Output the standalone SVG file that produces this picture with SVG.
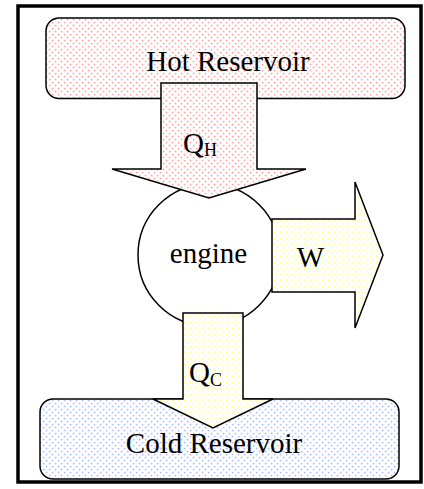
<svg xmlns="http://www.w3.org/2000/svg" width="424" height="489" viewBox="0 0 424 489">
<defs>
<pattern id="pink" width="6" height="6" patternUnits="userSpaceOnUse">
<rect width="6" height="6" fill="#ffffff"/>
<rect x="0.8" y="0.8" width="1.6" height="1.6" fill="#ff9f9f"/>
<rect x="3.8" y="3.8" width="1.6" height="1.6" fill="#ff9f9f"/>
</pattern>
<pattern id="blue" width="6" height="6" patternUnits="userSpaceOnUse">
<rect width="6" height="6" fill="#ffffff"/>
<rect x="0.8" y="0.8" width="1.6" height="1.6" fill="#a9bcff"/>
<rect x="3.8" y="3.8" width="1.6" height="1.6" fill="#a9bcff"/>
</pattern>
<pattern id="yellow" width="6" height="6" patternUnits="userSpaceOnUse">
<rect width="6" height="6" fill="#ffffff"/>
<rect x="0.8" y="0.8" width="1.6" height="1.6" fill="#ffff8c"/>
<rect x="3.8" y="3.8" width="1.6" height="1.6" fill="#ffff8c"/>
</pattern>
</defs>
<style>
.sh{stroke:#000;stroke-width:1.5;stroke-linejoin:miter}
.t{font-family:"Liberation Serif","Times New Roman",serif;font-size:29px;fill:#000}
.sub{font-size:18px}
</style>
<rect x="18" y="6" width="403" height="476" fill="#ffffff" stroke="#000" stroke-width="3.5"/>
<g id="hot">
<rect class="sh" x="46" y="18" width="359" height="80.5" rx="13" fill="url(#pink)"/>
<text class="t" x="228" y="71" text-anchor="middle">Hot Reservoir</text>
</g>
<g id="cold">
<rect class="sh" x="40" y="399" width="359" height="80" rx="13" fill="url(#blue)"/>
<text class="t" x="214" y="452.5" text-anchor="middle">Cold Reservoir</text>
</g>
<g id="engine">
<circle class="sh" cx="209" cy="255" r="71" fill="#ffffff"/>
<text class="t" x="208.5" y="263" text-anchor="middle">engine</text>
</g>
<g id="connectors">
<g id="qh">
<polygon class="sh" points="161,83 257,83 257,169 306,169 209,198 112,169 161,169" fill="url(#pink)"/>
<text class="t" x="183" y="153.3">Q<tspan class="sub" dy="2.5">H</tspan></text>
</g>
<g id="w">
<polygon class="sh" points="272,219 355,219 355,182 383,255 355,328 355,292 272,292" fill="url(#yellow)"/>
<text class="t" x="310.5" y="267" text-anchor="middle">W</text>
</g>
<g id="qc">
<polygon class="sh" points="183,313 243,313 243,399 273,399 213,428 153,399 183,399" fill="url(#yellow)"/>
<text class="t" x="189" y="381.7">Q<tspan class="sub" dy="4">C</tspan></text>
</g>
</g>
</svg>
